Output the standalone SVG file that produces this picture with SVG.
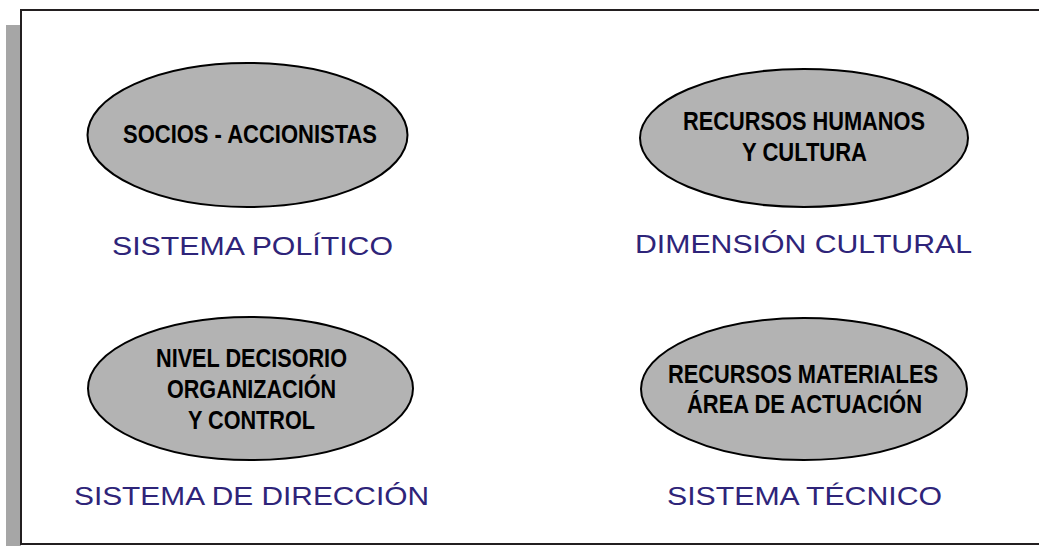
<svg xmlns="http://www.w3.org/2000/svg" width="1039" height="546" viewBox="0 0 1039 546">
<style>
.node ellipse{fill:#b3b3b3;stroke:#000;stroke-width:2}
.nt{font-family:"Liberation Sans",Arial,sans-serif;font-weight:bold;font-size:26px;fill:#000}
.lb{font-family:"Liberation Sans",Arial,sans-serif;font-size:25px;fill:#2e2479}
</style>
<rect x="6" y="25" width="15" height="521" fill="#a6a6a6"/>
<rect x="21" y="10" width="1030" height="534" fill="#fff" stroke="#231f20" stroke-width="2"/>
<g id="connectors"></g>
<g id="n1" class="node">
<ellipse cx="247.5" cy="135" rx="160" ry="72"/>
<text class="nt" x="123" y="143" textLength="254" lengthAdjust="spacingAndGlyphs">SOCIOS - ACCIONISTAS</text>
<text class="lb" x="112" y="255" textLength="281" lengthAdjust="spacingAndGlyphs">SISTEMA POLÍTICO</text>
</g>
<g id="n2" class="node">
<ellipse cx="804" cy="138" rx="164" ry="69"/>
<text class="nt" x="683" y="130" textLength="242" lengthAdjust="spacingAndGlyphs">RECURSOS HUMANOS</text>
<text class="nt" x="742" y="161" textLength="125" lengthAdjust="spacingAndGlyphs">Y CULTURA</text>
<text class="lb" x="635" y="253" textLength="337" lengthAdjust="spacingAndGlyphs">DIMENSIÓN CULTURAL</text>
</g>
<g id="n3" class="node">
<ellipse cx="250.5" cy="388.5" rx="162.5" ry="71.5"/>
<text class="nt" x="156" y="367" textLength="191" lengthAdjust="spacingAndGlyphs">NIVEL DECISORIO</text>
<text class="nt" x="167" y="398" textLength="169" lengthAdjust="spacingAndGlyphs">ORGANIZACIÓN</text>
<text class="nt" x="188" y="429" textLength="127" lengthAdjust="spacingAndGlyphs">Y CONTROL</text>
<text class="lb" x="74" y="505" textLength="355" lengthAdjust="spacingAndGlyphs">SISTEMA DE DIRECCIÓN</text>
</g>
<g id="n4" class="node">
<ellipse cx="804" cy="389" rx="163" ry="71"/>
<text class="nt" x="668" y="383" textLength="270" lengthAdjust="spacingAndGlyphs">RECURSOS MATERIALES</text>
<text class="nt" x="687" y="413" textLength="235" lengthAdjust="spacingAndGlyphs">ÁREA DE ACTUACIÓN</text>
<text class="lb" x="667" y="505" textLength="275" lengthAdjust="spacingAndGlyphs">SISTEMA TÉCNICO</text>
</g>
</svg>
